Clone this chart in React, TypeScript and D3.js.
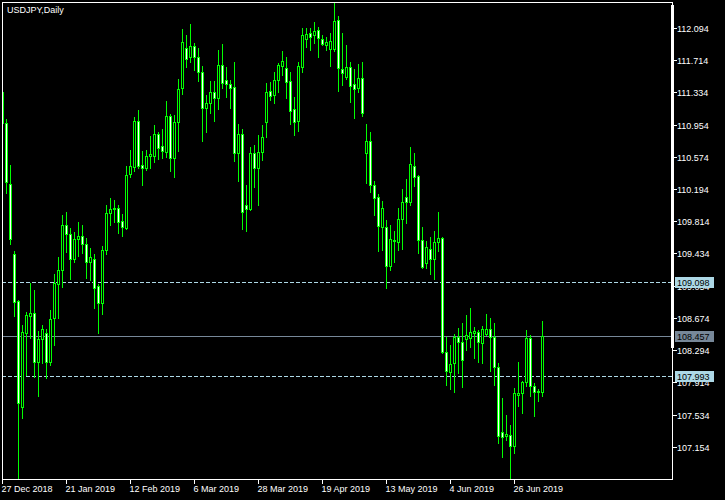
import React from 'react';
import * as d3 from 'd3';

const title = 'USDJPY,Daily';
const dateLabels = ['27 Dec 2018', '21 Jan 2019', '12 Feb 2019', '6 Mar 2019', '28 Mar 2019', '19 Apr 2019', '13 May 2019', '4 Jun 2019', '26 Jun 2019'];
const dateTickIndex = [0, 16, 32, 48, 64, 80, 96, 112, 128];
const priceTicks = [107.154, 107.534, 107.914, 108.294, 108.674, 109.054, 109.434, 109.814, 110.194, 110.574, 110.954, 111.334, 111.714, 112.094];
const dashedLevels = [109.098, 107.993];
const bidPrice = 108.457;

const opens = [
  111.339, 110.974, 110.254, 109.428, 108.873, 107.623, 108.496, 108.696, 108.732, 108.153,
  108.425, 108.496, 108.153, 108.673, 109.074, 109.239, 109.770, 109.664, 109.369, 109.605,
  109.640, 109.546, 109.333, 109.369, 109.050, 108.850, 109.475, 109.912, 109.959, 109.971,
  109.817, 109.735, 110.372, 110.454, 110.997, 110.478, 110.443, 110.584, 110.584, 110.844,
  110.702, 110.631, 111.056, 110.561, 110.985, 111.387, 111.859, 111.752, 111.882, 111.752,
  111.575, 111.151, 111.210, 111.339, 111.269, 111.658, 111.481, 111.434, 111.398, 110.620,
  110.844, 110.006, 109.959, 110.620, 110.443, 110.631, 110.985, 111.351, 111.304, 111.481,
  111.646, 111.623, 111.469, 111.139, 110.997, 111.634, 111.965, 112.036, 112.012, 112.071,
  111.965, 111.894, 111.847, 111.847, 112.189, 111.611, 111.516, 111.634, 111.434, 111.387,
  111.505, 110.620, 110.761, 110.242, 110.101, 109.746, 109.746, 109.286, 109.593, 109.569,
  109.841, 110.101, 110.041, 110.466, 110.348, 109.593, 109.322, 109.487, 109.369, 109.569,
  109.617, 108.271, 108.035, 108.142, 108.448, 108.389, 108.425, 108.437, 108.496, 108.507,
  108.378, 108.484, 108.543, 108.448, 108.094, 107.327, 107.280, 107.292, 107.162, 107.764,
  107.788, 107.917, 108.437, 107.870, 107.811, 107.799,
];
const highs = [
  111.363, 111.021, 110.478, 109.463, 108.885, 108.590, 108.743, 109.086, 109.003, 108.519,
  108.590, 108.543, 108.767, 109.192, 109.392, 109.888, 109.923, 109.735, 109.687, 109.805,
  109.770, 109.617, 109.499, 109.428, 109.074, 109.522, 110.006, 110.089, 110.065, 110.006,
  109.900, 110.466, 110.655, 111.044, 111.127, 110.643, 110.655, 110.820, 110.950, 110.867,
  110.903, 111.233, 111.080, 111.068, 111.493, 112.083, 112.012, 112.142, 111.918, 111.859,
  111.646, 111.304, 111.469, 111.469, 111.835, 111.906, 111.634, 111.481, 111.693, 110.962,
  110.903, 110.242, 110.690, 110.714, 110.832, 110.950, 111.446, 111.457, 111.575, 111.682,
  111.823, 111.752, 111.575, 111.280, 111.693, 112.095, 112.095, 112.095, 112.165, 112.106,
  112.012, 111.988, 112.036, 112.413, 112.236, 112.036, 111.894, 111.693, 111.611, 111.670,
  111.693, 110.962, 110.867, 110.289, 110.136, 110.053, 109.829, 109.770, 109.699, 109.971,
  110.195, 110.313, 110.690, 110.620, 110.360, 109.746, 109.581, 109.629, 109.699, 109.923,
  109.629, 108.448, 108.354, 108.484, 108.555, 108.614, 108.708, 108.791, 108.566, 108.531,
  108.578, 108.720, 108.673, 108.614, 108.142, 107.729, 107.528, 107.410, 107.847, 108.153,
  107.929, 108.531, 108.472, 107.906, 107.835, 108.637,
];
const lows = [
  110.938, 110.148, 109.546, 108.696, 104.870, 107.493, 108.000, 108.437, 107.976, 107.752,
  108.142, 107.965, 108.118, 108.354, 108.673, 109.038, 109.451, 109.133, 109.333, 109.404,
  109.440, 109.145, 109.121, 108.791, 108.496, 108.720, 109.428, 109.770, 109.805, 109.676,
  109.640, 109.723, 110.336, 110.407, 110.443, 110.242, 110.419, 110.443, 110.513, 110.549,
  110.561, 110.572, 110.407, 110.336, 110.643, 111.316, 111.634, 111.693, 111.599, 111.469,
  110.761, 110.867, 111.092, 110.997, 111.139, 111.387, 111.280, 111.151, 110.525, 110.289,
  109.723, 109.699, 109.947, 110.219, 110.006, 110.537, 110.808, 111.245, 111.210, 111.339,
  111.540, 111.269, 110.962, 110.832, 110.879, 111.575, 111.870, 111.835, 111.918, 111.752,
  111.894, 111.835, 111.646, 111.820, 111.351, 111.422, 111.490, 111.221, 111.033, 111.339,
  111.056, 110.266, 110.160, 109.888, 109.463, 109.475, 109.027, 109.239, 109.333, 109.475,
  109.487, 109.794, 110.006, 110.230, 109.440, 109.263, 109.263, 109.192, 109.133, 109.463,
  108.260, 107.882, 107.835, 107.799, 108.024, 107.858, 108.295, 108.331, 108.201, 108.153,
  108.142, 108.470, 108.047, 107.882, 107.198, 107.032, 107.233, 106.750, 107.080, 107.634,
  107.552, 107.870, 107.752, 107.516, 107.693, 107.752,
];
const closes = [
  110.974, 110.277, 109.605, 108.861, 107.670, 108.507, 108.708, 108.732, 108.153, 108.425,
  108.543, 108.153, 108.661, 109.086, 109.239, 109.770, 109.664, 109.369, 109.605, 109.640,
  109.546, 109.333, 109.392, 109.027, 108.850, 109.475, 109.912, 109.959, 109.971, 109.805,
  109.746, 110.360, 110.466, 110.997, 110.466, 110.443, 110.584, 110.608, 110.844, 110.679,
  110.643, 111.056, 110.561, 110.985, 111.375, 111.929, 111.729, 111.882, 111.752, 111.575,
  111.151, 111.210, 111.339, 111.269, 111.658, 111.446, 111.434, 111.387, 110.620, 110.844,
  109.923, 109.959, 110.620, 110.443, 110.631, 110.808, 111.339, 111.292, 111.481, 111.658,
  111.705, 111.457, 111.115, 110.985, 111.646, 112.012, 112.024, 111.988, 112.059, 111.977,
  111.906, 111.929, 111.941, 112.177, 111.623, 111.564, 111.634, 111.410, 111.375, 111.505,
  111.092, 110.761, 110.242, 110.089, 109.758, 109.971, 109.286, 109.605, 109.581, 109.841,
  110.041, 110.041, 110.490, 110.336, 109.593, 109.274, 109.510, 109.369, 109.569, 109.617,
  108.271, 108.047, 108.130, 108.448, 108.389, 108.177, 108.472, 108.507, 108.519, 108.389,
  108.543, 108.543, 108.448, 108.094, 107.280, 107.269, 107.304, 107.162, 107.788, 107.788,
  107.917, 108.437, 107.870, 107.799, 107.799, 108.457,
];

const W = 725;
const H = 500;
const L = 2;
const R = 672;
const T = 2;
const B = 479;
const GREEN = '#00ff00';
const FONT = '"Liberation Sans", Arial, sans-serif';

export default function App() {
  const y = d3.scaleLinear().domain([106.773, 112.401]).range([B, T]);
  const x = d3.scaleLinear().domain([0, 1]).range([2.5, 6.5]);
  const py = (v: number) => Math.round(y(v));

  const candles = opens.map((o, i) => {
    const c = closes[i];
    const cx = x(i);
    const hi = py(highs[i]);
    const lo = py(lows[i]);
    const top = py(Math.max(o, c));
    const bot = py(Math.min(o, c));
    const bull = c > o;
    return (
      <g key={i}>
        <line x1={cx} x2={cx} y1={hi} y2={lo + 1} stroke={GREEN} strokeWidth={1} />
        {bot - top >= 1 ? (
          <rect x={cx - 1} y={top + 0.5} width={2} height={bot - top} fill={bull ? '#000' : '#fff'} stroke={GREEN} strokeWidth={1} />
        ) : (
          <line x1={cx - 1.5} x2={cx + 1.5} y1={top + 0.5} y2={top + 0.5} stroke={GREEN} strokeWidth={1} />
        )}
      </g>
    );
  });

  return (
    <div style={{ position: 'fixed', left: 0, top: 0, width: W, height: H, background: '#000' }}>
      <svg width={W} height={H} style={{ display: 'block' }}>
        <defs>
          <clipPath id="plot">
            <rect x={L} y={T} width={R - L} height={B - T} />
          </clipPath>
        </defs>
        <rect x={0} y={0} width={W} height={H} fill="#000" />
        <g clipPath="url(#plot)">
          {dashedLevels.map((v) => (
            <line key={v} x1={L} x2={R} y1={py(v) + 0.5} y2={py(v) + 0.5} stroke="#add8e6" strokeWidth={1} strokeDasharray="4,2" />
          ))}
          <line x1={L} x2={R} y1={py(bidPrice) + 0.5} y2={py(bidPrice) + 0.5} stroke="#778899" strokeWidth={1} />
          {candles}
        </g>
        {/* frame */}
        <line x1={L + 0.5} x2={L + 0.5} y1={T} y2={B + 1} stroke="#fff" />
        <line x1={L} x2={R + 1} y1={T + 0.5} y2={T + 0.5} stroke="#fff" />
        <line x1={L} x2={R + 1} y1={B + 0.5} y2={B + 0.5} stroke="#fff" />
        <line x1={R + 0.5} x2={R + 0.5} y1={T} y2={B + 1} stroke="#fff" />
        <rect x={R - 1} y={5} width={3} height={343} fill="#fff" />
        {/* price axis */}
        {priceTicks.map((t) => (
          <g key={t}>
            <line x1={R} x2={R + 5} y1={py(t) + 0.5} y2={py(t) + 0.5} stroke="#fff" />
            <text x={677} y={py(t) + 4} fill="#fff" fontFamily={FONT} fontSize={9}>{t.toFixed(3)}</text>
          </g>
        ))}
        {dashedLevels.map((v) => (
          <g key={'b' + v}>
            <rect x={675} y={py(v) - 5} width={39} height={11} fill="#add8e6" />
            <text x={677} y={py(v) + 4} fill="#000" fontFamily={FONT} fontSize={9}>{v.toFixed(3)}</text>
          </g>
        ))}
        <rect x={675} y={py(bidPrice) - 5} width={39} height={11} fill="#778899" />
        <text x={677} y={py(bidPrice) + 4} fill="#000" fontFamily={FONT} fontSize={9}>{bidPrice.toFixed(3)}</text>
        {/* time axis */}
        {dateTickIndex.map((k, i) => (
          <g key={k}>
            <line x1={x(k)} x2={x(k)} y1={B} y2={B + 5} stroke="#fff" />
            <text x={x(k) - 1} y={492} fill="#fff" fontFamily={FONT} fontSize={9}>{dateLabels[i]}</text>
          </g>
        ))}
        <text x={7} y={13} fill="#fff" fontFamily={FONT} fontSize={9}>{title}</text>
      </svg>
    </div>
  );
}
